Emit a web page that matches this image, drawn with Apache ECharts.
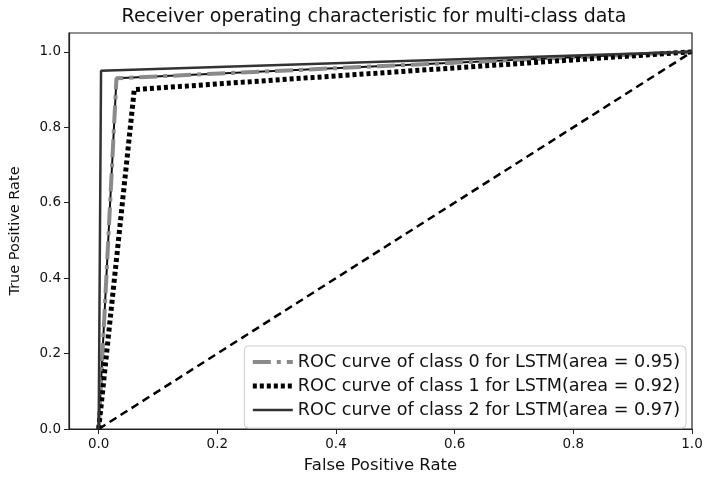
<!DOCTYPE html>
<html>
<head>
<meta charset="utf-8">
<script src="https://cdn.jsdelivr.net/npm/echarts@6/dist/echarts.min.js"></script>
<style>
  html, body { margin: 0; padding: 0; background: #fff; }
  #chart { width: 709px; height: 479px; }
</style>
</head>
<body>
<div id="chart"></div>
<script>
  // ROC points: [false positive rate, true positive rate]
  const class0Roc = [[0, 0], [0.03, 0.93], [1, 1]];
  const class1Roc = [[0, 0], [0.06, 0.90], [1, 1]];
  const class2Roc = [[0, 0], [0.004, 0.95], [1, 1]];
  const chanceLine = [[0, 0], [1, 1]];
  const seriesNames = [
    'ROC curve of class 0 for LSTM(area = 0.95)',
    'ROC curve of class 1 for LSTM(area = 0.92)',
    'ROC curve of class 2 for LSTM(area = 0.97)'
  ];
  const tickValues = [0, 0.2, 0.4, 0.6, 0.8, 1.0];

  const font = 'DejaVu Sans';
  const chart = echarts.init(document.getElementById('chart'), null, { renderer: 'canvas' });

  const option = {
    animation: false,
    backgroundColor: '#fff',
    textStyle: { fontFamily: font },
    title: {
      text: 'Receiver operating characteristic for multi-class data',
      left: 369, top: 3, textAlign: 'center',
      textStyle: { fontFamily: font, fontSize: 19, fontWeight: 'normal', color: '#111' }
    },
    grid: {
      left: 68, right: 17, top: 33, bottom: 49,
      show: true, borderColor: '#222', borderWidth: 1.2, backgroundColor: 'transparent'
    },
    legend: {
      orient: 'vertical',
      right: 23, bottom: 51,
      itemWidth: 40, itemHeight: 14, itemGap: 6,
      padding: [7, 6, 9, 6],
      backgroundColor: '#fff',
      borderColor: '#ccc', borderWidth: 1, borderRadius: 4,
      itemStyle: { opacity: 0 },
      textStyle: { fontFamily: font, fontSize: 17.6, color: '#111' },
      data: [
        { name: seriesNames[0], lineStyle: { width: 4 } },
        { name: seriesNames[1], lineStyle: { width: 5 } },
        { name: seriesNames[2], lineStyle: { width: 2.5 } }
      ]
    },
    xAxis: {
      type: 'value', min: -0.05, max: 1.0,
      name: 'False Positive Rate', nameLocation: 'middle', nameGap: 28,
      nameTextStyle: { fontFamily: font, fontSize: 16.5, color: '#111' },
      axisLine: { show: true, onZero: false, lineStyle: { color: '#222', width: 1.2 } },
      axisTick: { show: true, length: 5, customValues: tickValues, lineStyle: { color: '#222' } },
      axisLabel: { customValues: tickValues, fontFamily: font, fontSize: 13.5, color: '#111', margin: 8,
        formatter: v => v.toFixed(1) },
      splitLine: { show: false }
    },
    yAxis: {
      type: 'value', min: 0, max: 1.05,
      name: 'True Positive Rate', nameLocation: 'middle', nameGap: 46,
      nameTextStyle: { fontFamily: font, fontSize: 14.5, color: '#111' },
      axisLine: { show: true, onZero: false, lineStyle: { color: '#222', width: 1.2 } },
      axisTick: { show: true, length: 5, customValues: tickValues, lineStyle: { color: '#222' } },
      axisLabel: { customValues: tickValues, fontFamily: font, fontSize: 13.5, color: '#111', margin: 8,
        formatter: v => v.toFixed(1) },
      splitLine: { show: false }
    },
    series: [
      {
        name: 'chance',
        type: 'line', data: chanceLine, symbol: 'none', silent: true,
        lineStyle: { color: '#000', width: 2.5, type: [8, 5] }, z: 1
      },
      {
        name: 'class0-core',
        type: 'line', data: class0Roc, symbol: 'none', silent: true,
        lineStyle: { color: '#111', width: 2 }, z: 2
      },
      {
        name: seriesNames[0],
        type: 'line', data: class0Roc, symbol: 'none',
        itemStyle: { color: '#8a8a8a' },
        lineStyle: { color: '#8a8a8a', width: 4, type: [18, 6, 4, 6] }, z: 3
      },
      {
        name: seriesNames[1],
        type: 'line', data: class1Roc, symbol: 'none',
        itemStyle: { color: '#000' },
        lineStyle: { color: '#000', width: 5, type: [4, 3] }, z: 4
      },
      {
        name: seriesNames[2],
        type: 'line', data: class2Roc, symbol: 'none',
        itemStyle: { color: '#333' },
        lineStyle: { color: '#333', width: 2.5 }, z: 5
      }
    ]
  };

  chart.setOption(option);
</script>
</body>
</html>
